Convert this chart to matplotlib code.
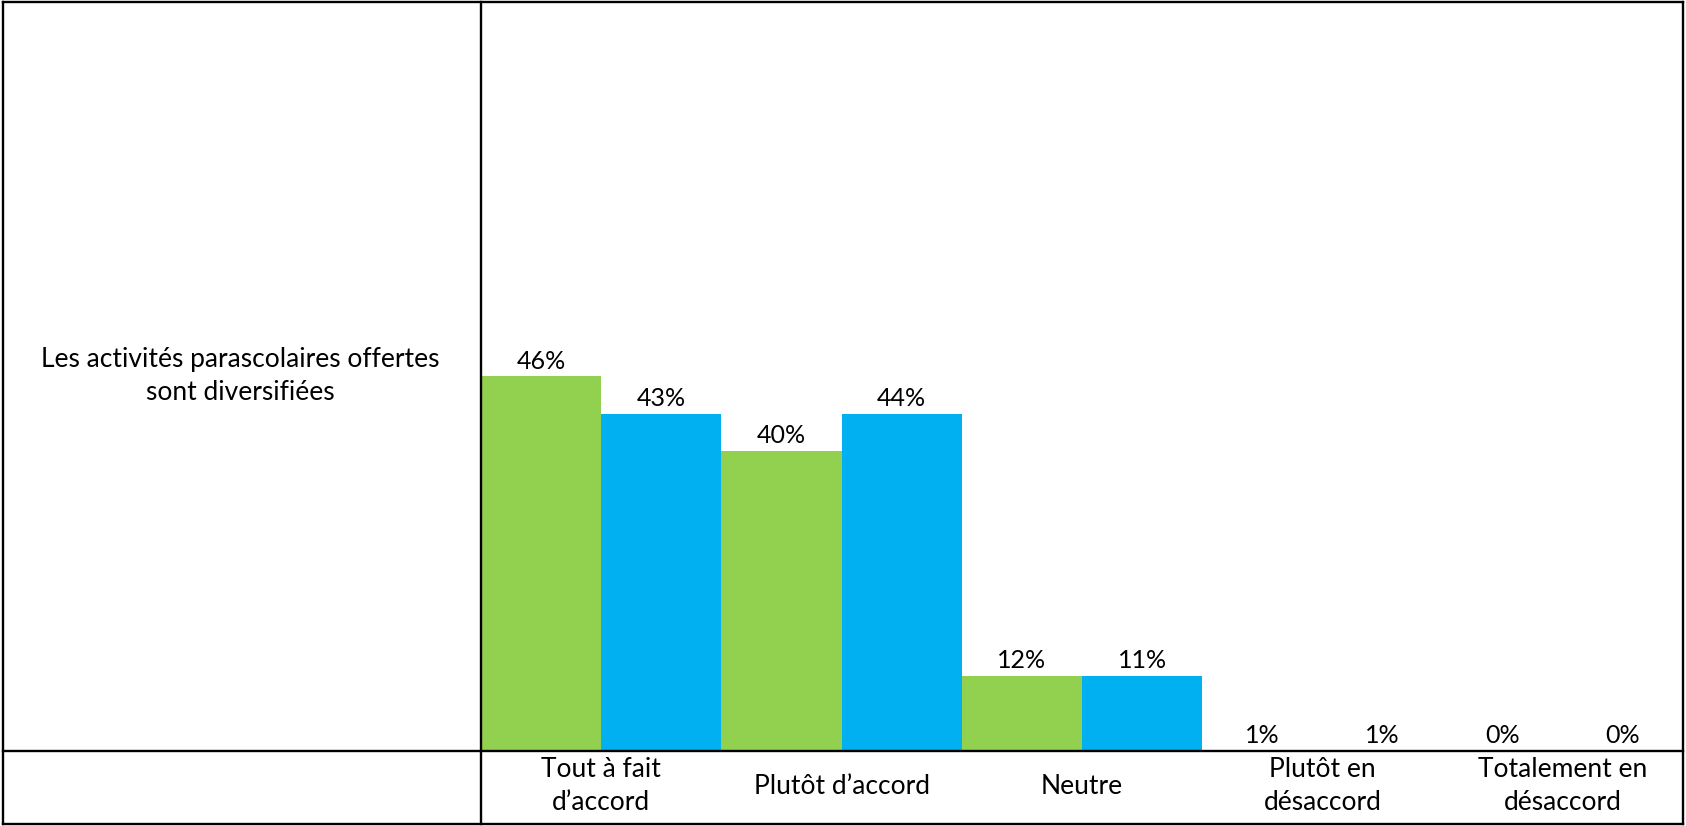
import matplotlib
matplotlib.use("Agg")
import matplotlib.pyplot as plt
from matplotlib.lines import Line2D

# data
categories = ["Tout à fait\nd\u2019accord", "Plutôt d\u2019accord", "Neutre",
              "Plutôt en\ndésaccord", "Totalement en\ndésaccord"]
labels_green = ["46%", "40%", "12%", "1%", "0%"]
labels_blue = ["43%", "44%", "11%", "1%", "0%"]
# bar heights as drawn in the picture (axis 0..1)
heights_green = [0.50, 0.40, 0.10, 0.0, 0.0]
heights_blue = [0.45, 0.45, 0.10, 0.0, 0.0]
row_label = "Les activités parascolaires offertes\nsont diversifiées"

green = "#92D050"
blue = "#00B0F0"

plt.rcParams['font.family'] = ['Lato', 'DejaVu Sans']
fs = 18
fs_txt = 19

W, H = 1686, 826
fig = plt.figure(figsize=(W / 100, H / 100), dpi=100)

# pixel helpers (y measured from top of image)
def fx(x):
    return x / W

def fy(y):
    return 1 - y / H

left, right, top, bottom = 3, 1683, 2, 824
split_x, base_y = 481, 750.5

ax = fig.add_axes([fx(split_x), fy(base_y), fx(right) - fx(split_x), fy(top) - fy(base_y)])
ax.set_xlim(0, len(categories))
ax.set_ylim(0, 1)
ax.axis("off")

for i in range(len(categories)):
    ax.bar(i + 0.25, heights_green[i], width=0.5, color=green, linewidth=0)
    ax.bar(i + 0.75, heights_blue[i], width=0.5, color=blue, linewidth=0)
    ax.annotate(labels_green[i], (i + 0.25, heights_green[i]), xytext=(0, 5.5),
                textcoords="offset points", ha="center", va="baseline", fontsize=fs)
    ax.annotate(labels_blue[i], (i + 0.75, heights_blue[i]), xytext=(0, 5.5),
                textcoords="offset points", ha="center", va="baseline", fontsize=fs)
    ax.text(i + 0.5, -(786 - base_y) / (base_y - top), categories[i], ha="center",
            va="center", fontsize=fs_txt, linespacing=1.4, clip_on=False)

fig.text(fx(240), fy(376.5), row_label, ha="center", va="center", fontsize=fs_txt,
         linespacing=1.4)

# table lines
lw = 1.7
lines = [
    ((left, right), (top, top)),
    ((left, right), (bottom, bottom)),
    ((left, left), (top, bottom)),
    ((right, right), (top, bottom)),
    ((split_x, split_x), (top, bottom)),
    ((left, right), (base_y, base_y)),
]
for xs, ys in lines:
    fig.add_artist(Line2D([fx(xs[0]), fx(xs[1])], [fy(ys[0]), fy(ys[1])],
                          color="black", linewidth=lw, solid_capstyle="projecting"))

fig.savefig("out.png", dpi=100)
